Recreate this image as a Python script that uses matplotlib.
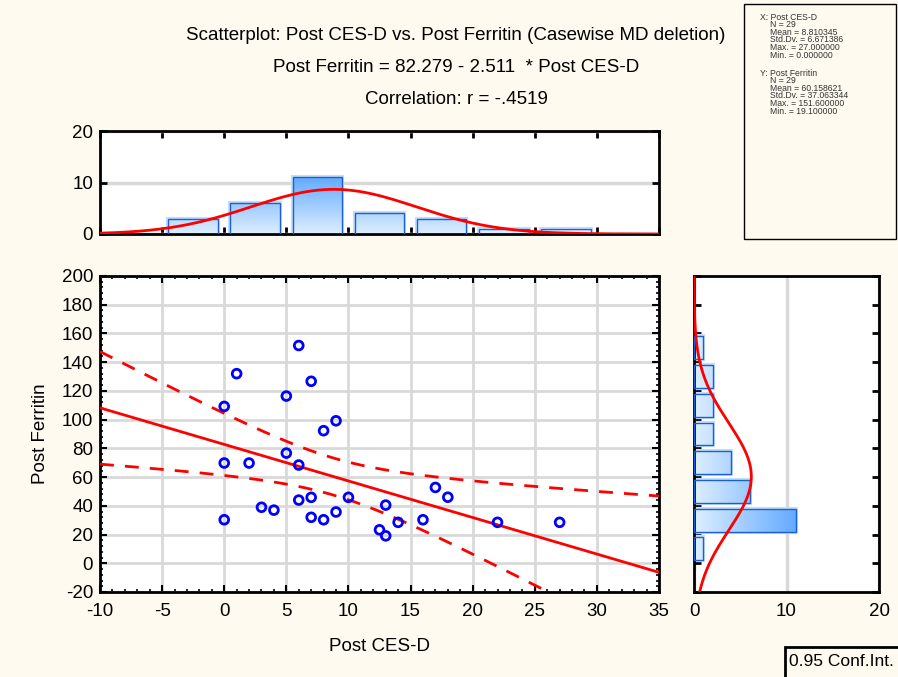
import numpy as np
import matplotlib
matplotlib.use("Agg")
import matplotlib.pyplot as plt
from matplotlib.patches import Rectangle
from matplotlib.colors import LinearSegmentedColormap
from matplotlib.ticker import MultipleLocator

plt.rcParams['font.family'] = ['Liberation Sans', 'DejaVu Sans']
plt.rcParams['axes.unicode_minus'] = False

# ---------------- data ----------------
post_cesd = [6, 1, 7, 5, 0, 9, 8, 5, 0, 2, 6, 10, 7, 6, 13, 3, 4, 9, 0, 7, 8,
             12.5, 13, 14, 16, 17, 18, 22, 27]
post_ferritin = [151.6, 132, 126.7, 116.4, 109.2, 99.2, 92.3, 76.7, 69.8, 69.8,
                 68.4, 45.9, 45.9, 44, 40.5, 39, 37, 35.7, 30.3, 32, 30.3,
                 23.3, 19.1, 28.5, 30.3, 52.8, 46, 28.5, 28.5]

x_bin_edges = [-5, 0, 5, 10, 15, 20, 25, 30]
x_counts = [3, 6, 11, 4, 3, 1, 1]
y_bin_edges = [0, 20, 40, 60, 80, 100, 120, 140, 160]
y_counts = [1, 11, 6, 4, 2, 2, 2, 1]

x_ticks = [-10, -5, 0, 5, 10, 15, 20, 25, 30, 35]
y_ticks = [-20, 0, 20, 40, 60, 80, 100, 120, 140, 160, 180, 200]

title_lines = ["Scatterplot: Post CES-D vs. Post Ferritin (Casewise MD deletion)",
               "Post Ferritin = 82.279 - 2.511  * Post CES-D",
               "Correlation: r = -.4519"]
stats_x = ["X: Post CES-D", "N = 29", "Mean = 8.810345", "Std.Dv. = 6.671386",
           "Max. = 27.000000", "Min. = 0.000000"]
stats_y = ["Y: Post Ferritin", "N = 29", "Mean = 60.158621", "Std.Dv. = 37.063344",
           "Max. = 151.600000", "Min. = 19.100000"]
t_crit = 2.0518  # t(0.975, df=27)

# ---------------- figure ----------------
W, H = 898, 677
BG = '#FFFAF0'
FS = 13.5
fig = plt.figure(figsize=(W / 100, H / 100), dpi=100, facecolor=BG)

def fx(px):
    return px / W

def fy(py):
    return 1 - py / H

ax = fig.add_axes([fx(100), fy(592), fx(659) - fx(100), fy(276) - fy(592)])
axt = fig.add_axes([fx(100), fy(234), fx(659) - fx(100), fy(131) - fy(234)])
axr = fig.add_axes([fx(694), fy(592), fx(879) - fx(694), fy(276) - fy(592)])

RED = '#FF0000'
GRID = '#D9D9D9'
cmap = LinearSegmentedColormap.from_list('bl', ['#DDEEFF', '#64ABFF'])
EDGE = '#1A5FD8'
HALO = '#C4DEF8'

x = np.array(post_cesd, dtype=float)
y = np.array(post_ferritin, dtype=float)
n = len(x)

for a in (ax, axt, axr):
    a.set_facecolor('white')
    for s in a.spines.values():
        s.set_linewidth(2)
        s.set_color('black')

# ---------------- main scatter ----------------
ax.set_xlim(-10, 35)
ax.set_ylim(-20, 200)
ax.set_xticks(x_ticks)
ax.set_yticks(y_ticks)
ax.xaxis.set_minor_locator(MultipleLocator(1))
ax.yaxis.set_minor_locator(MultipleLocator(4))
ax.tick_params(which='both', direction='in', top=True, right=True, width=1.5,
               colors='black', labelsize=FS)
ax.tick_params(which='major', length=5)
ax.tick_params(which='minor', length=2.5, width=1.2)
ax.tick_params(axis='x', pad=8)
ax.tick_params(axis='y', pad=5)
ax.grid(True, which='major', color=GRID, linewidth=2, zorder=0)
ax.set_axisbelow(True)

slope, intercept = np.polyfit(x, y, 1)
xs = np.linspace(-10, 35, 200)
yhat = intercept + slope * xs
resid = y - (intercept + slope * x)
s_err = np.sqrt(np.sum(resid ** 2) / (n - 2))
sxx = np.sum((x - x.mean()) ** 2)
half = t_crit * s_err * np.sqrt(1 / n + (xs - x.mean()) ** 2 / sxx)
ax.plot(xs, yhat, color=RED, lw=2, zorder=3)
ax.plot(xs, yhat + half, color=RED, lw=2, ls=(0, (5, 4)), zorder=3)
ax.plot(xs, yhat - half, color=RED, lw=2, ls=(0, (5, 4)), zorder=3)
ax.scatter(x, y, s=40, facecolors='none', edgecolors='#0000FF', linewidths=2, zorder=4)

ax.set_xlabel('Post CES-D', fontsize=FS, labelpad=13)
ax.set_ylabel('Post Ferritin', fontsize=FS, labelpad=9)

# ---------------- top histogram ----------------
axt.set_xlim(-10, 35)
axt.set_ylim(0, 20)
axt.set_xticks(x_ticks)
axt.set_yticks([0, 10, 20])
axt.tick_params(axis='x', which='both', direction='in', top=True, bottom=True,
                labelbottom=False, length=5, width=2)
axt.tick_params(axis='y', direction='in', left=True, right=True, length=5, width=2,
                labelsize=FS, pad=5)
axt.yaxis.grid(True, color=GRID, linewidth=2.5, zorder=0)
axt.set_axisbelow(True)
vmax = max(x_counts)
for i, c in enumerate(x_counts):
    lo, hi = x_bin_edges[i], x_bin_edges[i + 1]
    gap = 0.1 * (hi - lo)
    x0, x1 = lo + gap, hi - gap
    axt.add_patch(Rectangle((x0, 0), x1 - x0, c, facecolor='none', edgecolor=HALO,
                            lw=3, zorder=1))
    grad = np.linspace(0, c / vmax, 100).reshape(-1, 1)
    axt.imshow(grad, extent=[x0, x1, 0, c], origin='lower', aspect='auto',
               cmap=cmap, vmin=0, vmax=1, zorder=2)
    axt.add_patch(Rectangle((x0, 0), x1 - x0, c, facecolor='none', edgecolor=EDGE,
                            lw=1, zorder=3))
xc = np.linspace(-10, 35, 300)
binw_x = x_bin_edges[1] - x_bin_edges[0]
sdx = x.std(ddof=1)
pdf_x = n * binw_x * np.exp(-0.5 * ((xc - x.mean()) / sdx) ** 2) / (sdx * np.sqrt(2 * np.pi))
axt.plot(xc, pdf_x, color=RED, lw=2, zorder=4)
axt.set_xlim(-10, 35)
axt.set_ylim(0, 20)

# ---------------- right histogram ----------------
axr.set_xlim(0, 20)
axr.set_ylim(-20, 200)
axr.set_xticks([0, 10, 20])
axr.set_yticks(y_ticks)
axr.tick_params(axis='y', direction='in', left=True, right=True, labelleft=False,
                length=5, width=2)
axr.tick_params(axis='x', direction='in', bottom=True, length=0, labelsize=FS, pad=8)
axr.xaxis.grid(True, color=GRID, linewidth=2.5, zorder=0)
axr.set_axisbelow(True)
vmax_y = max(y_counts)
for i, c in enumerate(y_counts):
    lo, hi = y_bin_edges[i], y_bin_edges[i + 1]
    gap = 0.1 * (hi - lo)
    y0, y1 = lo + gap, hi - gap
    axr.add_patch(Rectangle((0, y0), c, y1 - y0, facecolor='none', edgecolor=HALO,
                            lw=3, zorder=1))
    grad = np.linspace(0, c / vmax_y, 100).reshape(1, -1)
    axr.imshow(grad, extent=[0, c, y0, y1], origin='lower', aspect='auto',
               cmap=cmap, vmin=0, vmax=1, zorder=2)
    axr.add_patch(Rectangle((0, y0), c, y1 - y0, facecolor='none', edgecolor=EDGE,
                            lw=1, zorder=3))
yc = np.linspace(-20, 200, 400)
binw_y = y_bin_edges[1] - y_bin_edges[0]
sdy = y.std(ddof=1)
pdf_y = n * binw_y * np.exp(-0.5 * ((yc - y.mean()) / sdy) ** 2) / (sdy * np.sqrt(2 * np.pi))
axr.plot(pdf_y, yc, color=RED, lw=2, zorder=4)
axr.set_xlim(0, 20)
axr.set_ylim(-20, 200)

# ---------------- titles ----------------
for i, line in enumerate(title_lines):
    fig.text(fx(456), fy(36 + 32 * i), line, ha='center', va='center', fontsize=FS)

# ---------------- stats box ----------------
fig.patches.append(Rectangle((fx(744), fy(239)), fx(896) - fx(744), fy(4) - fy(239),
                             transform=fig.transFigure, facecolor=BG, edgecolor='black',
                             lw=1, zorder=5))
line_h = 7.6
ypos = 17
for block in (stats_x, stats_y):
    for j, t in enumerate(block):
        xpos = 760 if j == 0 else 770
        fig.text(fx(xpos), fy(ypos), t, ha='left', va='center', fontsize=6.2,
                 color='#333333', zorder=6)
        ypos += line_h
    ypos += 10.4

# ---------------- conf.int box ----------------
fig.patches.append(Rectangle((fx(785), fy(680)), fx(900) - fx(785), fy(647) - fy(680),
                             transform=fig.transFigure, facecolor=BG, edgecolor='black',
                             lw=2, zorder=5))
fig.text(fx(789), fy(662), '0.95 Conf.Int.', ha='left', va='center', fontsize=12.5, zorder=6)

fig.savefig('out.png', dpi=100, facecolor=BG)
